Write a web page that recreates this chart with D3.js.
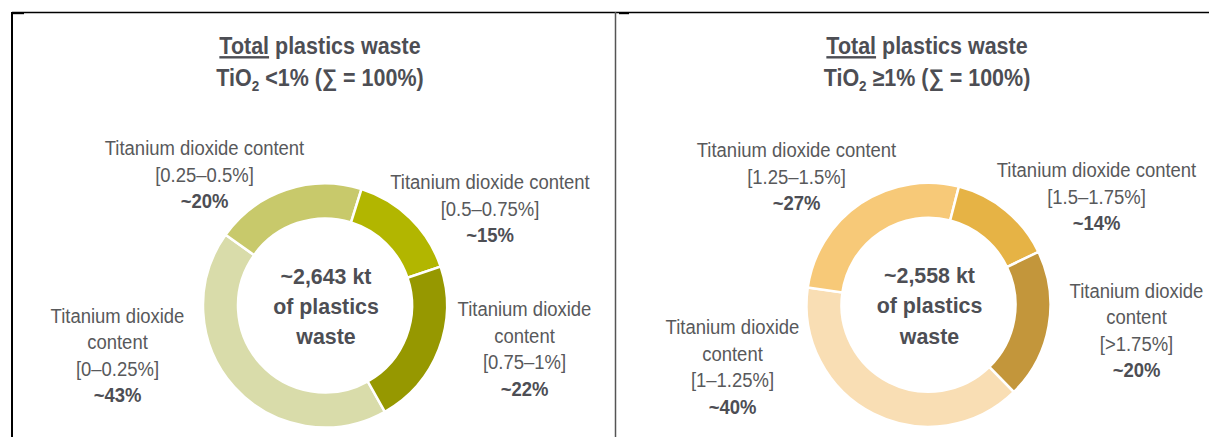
<!DOCTYPE html>
<html>
<head>
<meta charset="utf-8">
<script src="https://cdn.jsdelivr.net/npm/d3@7"></script>
<style>
  html, body { margin: 0; padding: 0; background: #ffffff; }
  svg { display: block; }
  text { font-family: "Liberation Sans", Arial, sans-serif; }
</style>
</head>
<body>
<svg id="chart" width="1209" height="437"></svg>
<script>
// ---------------- DATA ----------------
const titleLine1 = ["Total", " plastics waste"];
const leftSubtitle = ["TiO", "2", " <1% (\u2211 = 100%)"];
const rightSubtitle = ["TiO", "2", " \u22651% (\u2211 = 100%)"];

const leftCategories = ["[0\u20130.25%]", "[0.25\u20130.5%]", "[0.5\u20130.75%]", "[0.75\u20131%]"];
const leftValues = [43, 20, 15, 22];
const leftShares = ["~43%", "~20%", "~15%", "~22%"];
const leftTotal = ["~2,643 kt", "of plastics", "waste"];

const rightCategories = ["[1\u20131.25%]", "[1.25\u20131.5%]", "[1.5\u20131.75%]", "[>1.75%]"];
const rightValues = [40, 27, 14, 20];
const rightShares = ["~40%", "~27%", "~14%", "~20%"];
const rightTotal = ["~2,558 kt", "of plastics", "waste"];

const labelPrefixLong = ["Titanium dioxide content"];
const labelPrefixSplit = ["Titanium dioxide", "content"];

// ---------------- STYLE / LAYOUT ----------------
const leftColors = ["#d9dcaa", "#c8c96b", "#b2b600", "#969800"];
const rightColors = ["#f9deb4", "#f7c978", "#e6b345", "#c3963b"];
const textColor = "#58595b";
const boldColor = "#4d4e54";

const svg = d3.select("#chart");

// condensed text helper: group translated to (x,y) and squeezed horizontally
function condensed(x, y, sx) {
  return svg.append("g").attr("transform", `translate(${x},${y}) scale(${sx},1)`)
    .append("text").attr("text-anchor", "middle");
}

// frame
svg.append("line").attr("x1", 12).attr("x2", 1209).attr("y1", 12.5).attr("y2", 12.5)
  .attr("stroke", "#000").attr("stroke-width", 1.3);
svg.append("line").attr("x1", 12).attr("x2", 12).attr("y1", 12).attr("y2", 437)
  .attr("stroke", "#000").attr("stroke-width", 2);
svg.append("line").attr("x1", 615.5).attr("x2", 615.5).attr("y1", 12).attr("y2", 437)
  .attr("stroke", "#555").attr("stroke-width", 1.5);
svg.append("rect").attr("x", 12).attr("y", 12).attr("width", 12).attr("height", 2.2).attr("fill", "#000");
svg.append("rect").attr("x", 619).attr("y", 12).attr("width", 10).attr("height", 2.2).attr("fill", "#000");

const panels = [
  {
    cx: 325, cy: 305.5, titleX: 320, subtitle: leftSubtitle,
    categories: leftCategories, values: leftValues, shares: leftShares, total: leftTotal,
    colors: leftColors, start: 150.6,
    // label layout: [x centre, first baseline, split prefix?]
    labels: [[117.5, 322.5, true], [204.5, 155, false], [490, 189, false], [524.5, 316, true]]
  },
  {
    cx: 928.5, cy: 304.8, titleX: 927, subtitle: rightSubtitle,
    categories: rightCategories, values: rightValues, shares: rightShares, total: rightTotal,
    colors: rightColors, start: 135.6,
    labels: [[732.5, 334, true], [796.5, 157, false], [1096.5, 177, false], [1136.5, 297.5, true]]
  }
];

const outerR = 122, innerR = 87;
const lineH = 26.6;
const labelFont = 21;
const labelSX = 0.88;
const titleFont = 24;
const titleSX = 0.895;
const centreFont = 23;
const centreSX = 0.93;

panels.forEach(p => {
  // title
  const t1 = condensed(p.titleX, 54, titleSX)
    .attr("font-size", titleFont).attr("font-weight", "bold").attr("fill", boldColor);
  t1.append("tspan").attr("text-decoration", "underline").text(titleLine1[0]);
  t1.append("tspan").text(titleLine1[1]);
  const t2 = condensed(p.titleX, 86, titleSX)
    .attr("font-size", titleFont).attr("font-weight", "bold").attr("fill", boldColor);
  t2.append("tspan").text(p.subtitle[0]);
  t2.append("tspan").attr("font-size", 15).attr("dy", 5).text(p.subtitle[1]);
  t2.append("tspan").attr("dy", -5).text(p.subtitle[2]);

  // donut
  const a0 = p.start * Math.PI / 180;
  const pie = d3.pie().sort(null).value(d => d).startAngle(a0).endAngle(a0 + 2 * Math.PI);
  const arc = d3.arc().innerRadius(innerR).outerRadius(outerR);
  const g = svg.append("g").attr("transform", `translate(${p.cx},${p.cy})`);
  g.selectAll("path").data(pie(p.values)).join("path")
    .attr("d", arc)
    .attr("fill", (d, i) => p.colors[i])
    .attr("stroke", "#ffffff").attr("stroke-width", 2.5);

  // centre text
  const ct = condensed(p.cx + 1, p.cy - 22, centreSX)
    .attr("font-size", centreFont).attr("font-weight", "bold").attr("fill", boldColor);
  p.total.forEach((s, i) => {
    ct.append("tspan").attr("x", 0).attr("y", i * 30.5).text(s);
  });

  // labels
  p.categories.forEach((cat, i) => {
    const [lx, ly, split] = p.labels[i];
    const lines = (split ? labelPrefixSplit : labelPrefixLong).concat([cat]);
    const tx = condensed(lx, ly, labelSX).attr("font-size", labelFont).attr("fill", textColor);
    lines.forEach((s, j) => {
      tx.append("tspan").attr("x", 0).attr("y", j * lineH).text(s);
    });
    tx.append("tspan").attr("x", 0).attr("y", lines.length * lineH)
      .attr("font-weight", "bold").attr("fill", boldColor).text(p.shares[i]);
  });
});
</script>
</body>
</html>
